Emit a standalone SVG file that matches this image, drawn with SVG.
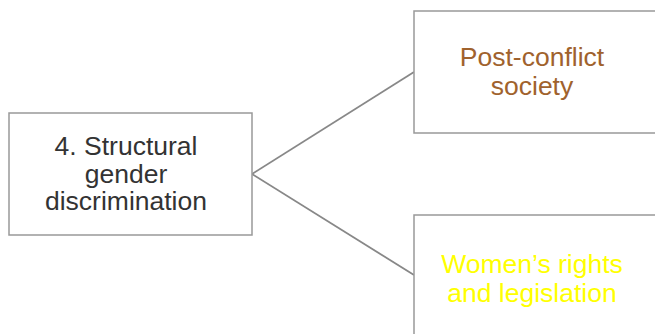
<svg xmlns="http://www.w3.org/2000/svg" width="655" height="334" viewBox="0 0 655 334">
<style>
.box{fill:#fff;stroke:#999;stroke-width:1.5}
.conn{stroke:#888;stroke-width:1.8;fill:none}
text{font-family:"Liberation Sans",Arial,sans-serif;font-size:26.5px;text-anchor:middle}
</style>
<rect width="655" height="334" fill="#fff"/>
<g id="connectors">
<line class="conn" x1="252" y1="174" x2="414" y2="72"/>
<line class="conn" x1="252" y1="174" x2="414" y2="275"/>
</g>
<g id="node-structural">
<rect class="box" x="9" y="113" width="243" height="122"/>
<text x="126" y="155" fill="#333">4. Structural</text>
<text x="126" y="183" fill="#333">gender</text>
<text x="126" y="210" fill="#333">discrimination</text>
</g>
<g id="node-postconflict">
<rect class="box" x="414" y="11" width="260" height="122"/>
<text x="532" y="66" fill="#a0622d">Post-conflict</text>
<text x="532" y="95" fill="#a0622d">society</text>
</g>
<g id="node-womens">
<rect class="box" x="414" y="215" width="260" height="140"/>
<text x="532" y="273" fill="#ffff00">Women’s rights</text>
<text x="532" y="302" fill="#ffff00">and legislation</text>
</g>
</svg>
